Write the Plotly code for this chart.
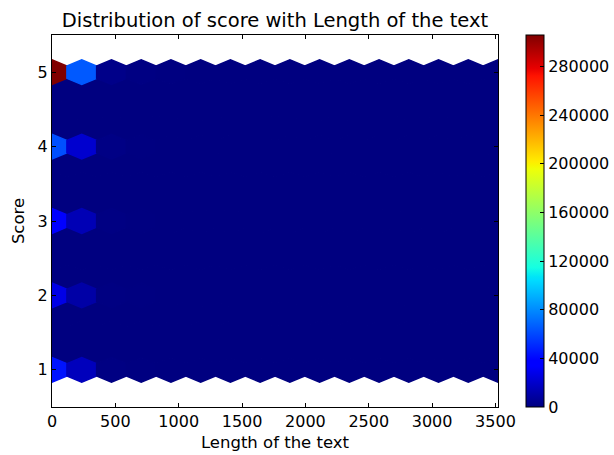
import numpy as np
import plotly.graph_objects as go
from plotly.colors import sample_colorscale

# ---- data (hexbin counts) ----
title_text = "Distribution of score with Length of the text"
x_label = "Length of the text"
y_label = "Score"
x_min, x_max = 0.0, 3520.0       # extent of text length
y_min, y_max = 1.0, 5.0          # extent of score
gridsize = 15

scores = [1, 2, 3, 4, 5]
# counts per score on the main hex lattice, one value per length bin (16 bins)
counts_score_1 = [44000, 16000, 900, 250, 90, 40, 20, 10, 6, 4, 3, 2, 1, 1, 1, 1]
counts_score_2 = [27000, 10000, 600, 180, 70, 30, 15, 8, 5, 3, 2, 1, 1, 1, 0, 0]
counts_score_3 = [38000, 14000, 800, 220, 80, 35, 18, 9, 5, 3, 2, 1, 1, 1, 0, 0]
counts_score_4 = [62000, 21000, 1200, 320, 110, 45, 22, 11, 6, 4, 3, 2, 1, 1, 1, 0]
counts_score_5 = [306000, 65000, 2500, 700, 250, 100, 50, 25, 13, 8, 5, 3, 2, 2, 1, 1]
counts_by_score = [counts_score_1, counts_score_2, counts_score_3, counts_score_4, counts_score_5]

x_ticks = [0, 500, 1000, 1500, 2000, 2500, 3000, 3500]
y_ticks = [1, 2, 3, 4, 5]
cbar_ticks = [0, 40000, 80000, 120000, 160000, 200000, 240000, 280000]

# ---- matplotlib "jet" colormap ----
red_seg = [(0, 0), (0.35, 0), (0.66, 1), (0.89, 1), (1, 0.5)]
green_seg = [(0, 0), (0.125, 0), (0.375, 1), (0.64, 1), (0.91, 0), (1, 0)]
blue_seg = [(0, 0.5), (0.11, 1), (0.34, 1), (0.65, 0), (1, 0)]
bps = sorted(set([p for seg in (red_seg, green_seg, blue_seg) for p, _ in seg]))
def seg_interp(seg, t):
    return np.interp(t, [p for p, _ in seg], [v for _, v in seg])
jet = [[t, "rgb(%d,%d,%d)" % (round(255 * seg_interp(red_seg, t)),
                               round(255 * seg_interp(green_seg, t)),
                               round(255 * seg_interp(blue_seg, t)))] for t in bps]

# ---- hex lattice (matplotlib hexbin geometry) ----
nx = gridsize
ny = int(nx / np.sqrt(3))
sx = (x_max - x_min) / nx
sy = (y_max - y_min) / ny
vmax = max(max(c) for c in counts_by_score)

cells = []  # (cx, cy, count)
for j in range(ny):
    cy = y_min + (j + 0.5) * sy
    for i in range(nx):
        cx = x_min + (i + 0.5) * sx
        cells.append((cx, cy, 0))
for j in range(ny + 1):
    cy = y_min + j * sy
    for i in range(nx + 1):
        cx = x_min + i * sx
        val = 0
        for s, cnts in zip(scores, counts_by_score):
            if abs(cy - s) < 1e-9:
                val = cnts[i]
        cells.append((cx, cy, val))

hex_dx = np.array([0.5, 0.5, 0.0, -0.5, -0.5, 0.0, 0.5]) * sx
hex_dy = np.array([-0.5, 0.5, 1.0, 0.5, -0.5, -1.0, -0.5]) * sy / 3.0

fig = go.Figure()
colors = sample_colorscale(jet, [c[2] / vmax for c in cells])
for (cx, cy, val), col in zip(cells, colors):
    fig.add_trace(go.Scatter(
        x=cx + hex_dx, y=cy + hex_dy, mode="lines", fill="toself",
        fillcolor=col, line=dict(color=col, width=1.4),
        hoverinfo="skip", showlegend=False))

# colorbar carrier
fig.add_trace(go.Scatter(
    x=[-1e6, -1e6], y=[-10, -10], mode="markers", showlegend=False, hoverinfo="skip",
    marker=dict(color=[0, vmax], cmin=0, cmax=vmax, colorscale=jet, showscale=True,
                colorbar=dict(x=474 / 446, xanchor="left", xpad=0, y=0.5, yanchor="middle",
                              ypad=0, len=1, lenmode="fraction", thickness=18,
                              outlinewidth=1, outlinecolor="black",
                              tickvals=cbar_ticks, ticktext=[str(v) for v in cbar_ticks],
                              ticks="inside", ticklen=4, tickcolor="black",
                              tickfont=dict(family="DejaVu Sans", size=16, color="black")))))

axis_common = dict(showline=True, linecolor="black", linewidth=1, mirror="allticks",
                   ticks="inside", ticklen=4, tickcolor="black", showgrid=False,
                   zeroline=False, tickfont=dict(family="DejaVu Sans", size=16, color="black"),
                   title_font=dict(family="DejaVu Sans", size=16.5, color="black"))

fig.update_xaxes(range=[x_min, x_max], tickvals=x_ticks, title_text=x_label,
                 title_standoff=6, **axis_common)
fig.update_yaxes(range=[0.5, 5.5], tickvals=y_ticks, title_text=y_label,
                 title_standoff=8, **axis_common)

fig.update_layout(
    width=614, height=455,
    margin=dict(l=52, r=116, t=35, b=48, autoexpand=False),
    paper_bgcolor="white", plot_bgcolor="white",
    title=dict(text=title_text, x=0.5, xref="paper", y=1 - 20 / 455, yanchor="middle",
               font=dict(family="DejaVu Sans", size=19.5, color="black")),
    showlegend=False,
)

fig.write_html("out.html")
